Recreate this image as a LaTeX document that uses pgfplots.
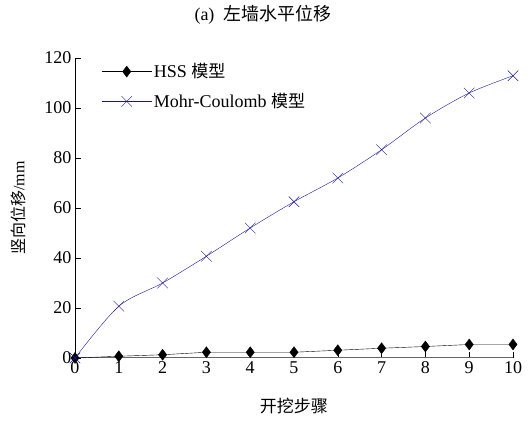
\documentclass[border=0pt]{standalone}
\usepackage{pgfplots}
\pgfplotsset{compat=1.18}
\usepackage{fontspec}
\setmainfont{Liberation Serif}
\newfontfamily\cjk{Noto Sans CJK SC}
\definecolor{mcblue}{RGB}{25,25,150}
\begin{document}
\begin{tikzpicture}
\useasboundingbox (-75pt,-67pt) rectangle (456pt,358pt);
\begin{axis}[
  scale only axis, width=438pt, height=300pt,
  xmin=0, xmax=10, ymin=0, ymax=120,
  axis x line*=bottom, axis y line*=left,
  x axis line style={-, draw=gray!80!black, line width=1pt},
  y axis line style={-, black},
  xtick={0,...,10}, ytick={0,20,...,120},
  /pgf/number format/assume math mode=true,
  ticklabel style={font=\fontsize{18}{18}\selectfont},
  tick style={black},
  tick align=inside,
  major tick length=6pt,
  xlabel={\cjk\fontsize{17}{17}\selectfont 开挖步骤},
  xlabel style={yshift=-18pt},
  ylabel={\cjk\fontsize{16}{16}\selectfont 竖向位移\rmfamily/mm},
  ylabel style={yshift=12pt},
  title={\fontsize{18}{18}\selectfont (a)\ \ {\cjk\fontsize{18}{18}\selectfont 左墙水平位移}},
  title style={yshift=24pt, xshift=-31pt},
  legend style={at={(0.06,0.995)}, anchor=north west, draw=none, fill=none,
    font=\fontsize{18}{18}\selectfont, row sep=10pt, inner xsep=0pt},
  legend cell align=left,
  legend image code/.code={\draw[mark repeat=2,mark phase=2] plot coordinates {(0cm,0cm)(0.88cm,0cm)(1.76cm,0cm)};},
]
\addplot[black, mark=diamond*, mark size=5.5pt, mark options={fill=black}] coordinates {
(0,0)(1,0.7)(2,1.3)(3,2.3)(4,2.3)(5,2.3)(6,3.1)(7,3.9)(8,4.6)(9,5.4)(10,5.4)};
\addlegendentry{HSS {\cjk\fontsize{17}{17}\selectfont 模型}}
\addplot[mcblue, smooth, mark=x, mark size=7.5pt] coordinates {
(0,0)(1,20.7)(2,30)(3,40.7)(4,52)(5,62.5)(6,72)(7,83.3)(8,96)(9,106)(10,112.9)};
\addlegendentry{Mohr-Coulomb {\cjk\fontsize{17}{17}\selectfont 模型}}
\end{axis}
\end{tikzpicture}
\end{document}
